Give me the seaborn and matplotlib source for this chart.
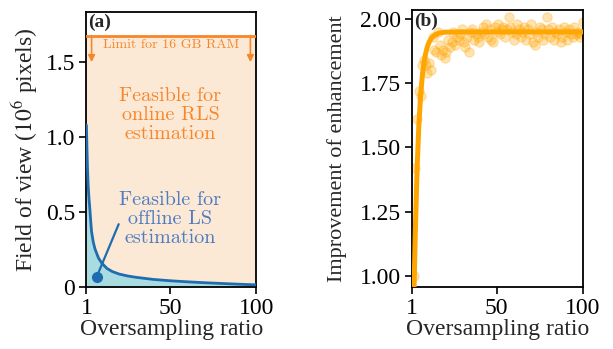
import numpy as np
import matplotlib
matplotlib.use("Agg")
import matplotlib.pyplot as plt
import seaborn as sns

# ---------------------------------------------------------------------------
# Data
# ---------------------------------------------------------------------------

# (a) memory-limited field of view for offline LS
ls_ratio = [1, 1.3, 1.6, 2, 2.5, 3, 3.5, 4, 5, 6, 8, 10, 13, 16, 20, 25, 30,
            40, 50, 60, 70, 80, 90, 100]
ls_fov   = [1.08, 0.93, 0.80, 0.68, 0.59, 0.52, 0.44, 0.37, 0.30, 0.255,
            0.195, 0.160, 0.125, 0.105, 0.088, 0.075, 0.066, 0.052, 0.043,
            0.036, 0.030, 0.025, 0.020, 0.016]
rls_limit = 1.677          # FOV limit for 16 GB RAM (online RLS)
xlim_a = (1, 100)
ylim_a = (0, 1.835)
xticks_a = [1, 50, 100]
yticks_a = [0, 0.5, 1.0, 1.5]
yticklabels_a = ["0", "0.5", "1.0", "1.5"]

# (b) improvement of enhancement vs oversampling ratio
imp_ratio = list(range(2, 101))
imp_meas = [1.00, 1.42, 1.61, 1.72, 1.70, 1.82, 1.84, 1.82, 1.79, 1.83,
            1.80, 1.93, 1.88, 1.87, 1.95, 1.90, 1.86, 1.88, 1.85, 1.87,
            1.92, 1.89, 1.91, 1.95, 1.90, 1.93, 1.92, 1.94, 1.96, 1.91,
            1.89, 1.93, 1.87, 1.95, 1.96, 1.92, 1.94, 1.93, 1.91, 1.95,
            1.97, 1.94, 1.98, 1.93, 1.96, 1.92, 1.91, 1.97, 1.95, 1.98,
            1.94, 1.96, 1.97, 1.93, 1.96, 2.01, 1.97, 1.95, 1.92, 1.94,
            1.98, 1.96, 1.93, 1.95, 1.97, 1.92, 1.96, 1.94, 1.98, 1.91,
            1.90, 1.95, 1.93, 1.97, 1.96, 1.92, 1.94, 2.01, 1.96, 1.93,
            1.97, 1.92, 1.95, 1.94, 1.96, 1.91, 1.93, 1.97, 1.95, 1.92,
            1.96, 1.94, 1.93, 1.97, 1.94, 1.95, 1.93, 1.94, 1.99]
fit_ratio = [2.2, 3, 4, 5, 6, 7, 8, 9, 10, 11, 12, 13, 15, 17, 20, 30, 50, 100]
fit_imp   = [0.95, 1.18, 1.42, 1.586, 1.70, 1.778, 1.832, 1.868, 1.894,
             1.911, 1.923, 1.931, 1.941, 1.946, 1.949, 1.95, 1.95, 1.95]
xticks_b = [1, 50, 100]
yticks_b = [1.00, 1.25, 1.50, 1.75, 2.00]
ylim_b = (0.955, 2.035)

# colours
C_ORANGE  = "#f7862a"
C_PEACH   = "#fbe9d6"
C_CYAN    = "#a8dce0"
C_BLUE    = "#1f6db0"
C_BLUETXT = "#4f7bc0"
C_FIT     = "#ffa500"

# ---------------------------------------------------------------------------
# Style
# ---------------------------------------------------------------------------
sns.set_theme(style="ticks")
plt.rcParams["font.family"] = ["Liberation Serif", "DejaVu Serif"]
plt.rcParams["mathtext.fontset"] = "stix"
plt.rcParams.update({
    "font.size": 17,
    "axes.labelsize": 17,
    "xtick.labelsize": 17,
    "ytick.labelsize": 17,
    "axes.edgecolor": "black",
    "axes.linewidth": 1.3,
    "xtick.color": "black",
    "ytick.color": "black",
    "xtick.major.size": 5,
    "ytick.major.size": 5,
    "xtick.major.width": 1.2,
    "ytick.major.width": 1.2,
    "xtick.major.pad": 3,
    "ytick.major.pad": 3,
})
ANNOT_FONT = ["cmr10", "DejaVu Serif"]

fig = plt.figure(figsize=(6.13, 3.49), dpi=100)
ax_a = fig.add_axes([0.141, 0.177, 0.277, 0.789])
ax_b = fig.add_axes([0.672, 0.177, 0.279, 0.794])

# ---------------------------------------------------------------------------
# (a)
# ---------------------------------------------------------------------------
ax_a.fill_between(xlim_a, 0, rls_limit, color=C_PEACH, lw=0, zorder=0)
ax_a.fill_between(ls_ratio, 0, ls_fov, color=C_CYAN, lw=0, zorder=1)
sns.lineplot(x=ls_ratio, y=ls_fov, ax=ax_a, color=C_BLUE, lw=2, zorder=3)
ax_a.axhline(rls_limit, color=C_ORANGE, lw=2, zorder=3)

for xa in (4, 96.6):
    ax_a.annotate("", xy=(xa, 1.50), xytext=(xa, rls_limit),
                  arrowprops=dict(arrowstyle="-|>", color=C_ORANGE, lw=1.2,
                                  mutation_scale=10, shrinkA=0, shrinkB=0))
ax_a.text(50.5, 1.612, "Limit for 16 GB RAM", color=C_ORANGE, fontsize=10,
          family=ANNOT_FONT, ha="center", va="center")
ax_a.text(50, 1.148, "Feasible for\nonline RLS\nestimation", color=C_ORANGE,
          fontsize=14.5, family=ANNOT_FONT, ha="center", va="center",
          linespacing=1.1)
ax_a.text(50, 0.455, "Feasible for\noffline LS\nestimation", color=C_BLUETXT,
          fontsize=14.5, family=ANNOT_FONT, ha="center", va="center",
          linespacing=1.1)
ax_a.annotate("", xy=(6.9, 0.067), xytext=(19.8, 0.42),
              arrowprops=dict(arrowstyle="-", color=C_BLUE, lw=1.6,
                              shrinkA=0, shrinkB=0))
ax_a.plot([6.9], [0.067], "o", color=C_BLUE, ms=7, zorder=4)
ax_a.text(1.8, 1.765, "(a)", fontsize=14, fontweight="bold", ha="left",
          va="center")

ax_a.set_xlim(*xlim_a)
ax_a.set_ylim(*ylim_a)
ax_a.set_xticks(xticks_a)
ax_a.set_yticks(yticks_a)
ax_a.set_yticklabels(yticklabels_a)
ax_a.set_xlabel("Oversampling ratio", labelpad=0)
ax_a.set_ylabel(r"Field of view ($10^6$ pixels)", labelpad=4)

# ---------------------------------------------------------------------------
# (b)
# ---------------------------------------------------------------------------
sns.scatterplot(x=imp_ratio, y=imp_meas, ax=ax_b, color=C_FIT, alpha=0.3,
                s=45, edgecolor=C_FIT, linewidth=0.8, zorder=2)
sns.lineplot(x=fit_ratio, y=fit_imp, ax=ax_b, color=C_FIT, lw=3.6, zorder=3)
ax_b.text(2.0, 1.99, "(b)", fontsize=14, fontweight="bold", ha="left",
          va="center", zorder=4)

ax_b.set_xlim(1, 100)
ax_b.set_ylim(*ylim_b)
ax_b.set_xticks(xticks_b)
ax_b.set_yticks(yticks_b)
ax_b.set_yticklabels([f"{v:.2f}" for v in yticks_b])
ax_b.set_xlabel("Oversampling ratio", labelpad=0)
ax_b.set_ylabel("Improvement of enhancement", labelpad=9, fontsize=16)

for ax in (ax_a, ax_b):
    for sp in ax.spines.values():
        sp.set_visible(True)
        sp.set_color("black")

fig.savefig("out.png", dpi=100)
